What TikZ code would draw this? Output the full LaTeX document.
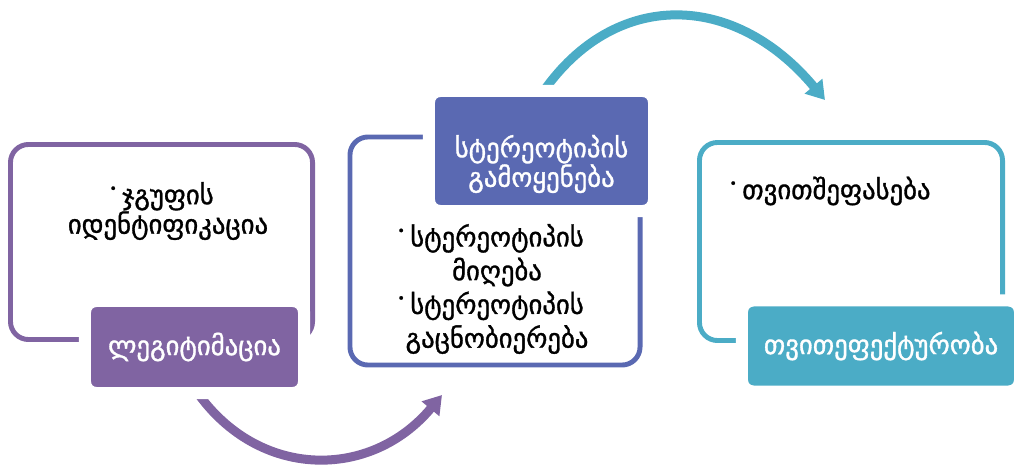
\documentclass[tikz,border=0pt]{standalone}
\usepackage{fontspec}
\setmainfont{DejaVu Sans}[FakeBold=1.2]
\usetikzlibrary{arrows.meta}
\definecolor{purp}{HTML}{8064A2}
\definecolor{blu}{HTML}{5A69B2}
\definecolor{cyn}{HTML}{4BACC6}
% hanging bullet, kept out of the centring
\newcommand{\bul}{\llap{\raisebox{.42em}{\fontsize{9}{9}\selectfont •}\hspace{.2em}}}

\begin{document}
\begin{tikzpicture}[x=0.025cm,y=-0.025cm,
 every node/.style={font=\fontsize{19}{22}\selectfont,inner sep=0pt},
 outl/.style={draw=#1,line width=3.5pt,rounded corners=0.45cm},
 tab/.style={fill=#1,draw=white,line width=0.3cm,rounded corners=0.28cm,text=white,align=center},
 flow/.style={line width=0.225cm,-{Triangle[width=0.55cm,length=0.45cm]}}]
\useasboundingbox (0,0) rectangle (1015,466);
% curved arrows between the stages
\coordinate (p1) at (197,392);
\coordinate (p2) at (442,395);
\draw[flow,purp] (p1) .. controls (259,480) and (371,480) .. (p2);
\coordinate (c1) at (543,92);
\coordinate (c2) at (825,100);
\draw[flow,cyn] (c1) .. controls (614,-10) and (733,-10) .. (c2);
% outlined frames
\node[outl=purp,minimum width=7.55cm,minimum height=4.875cm] (o1) at (161.5,242) {};
\node[outl=blu,minimum width=7.25cm,minimum height=5.7cm] (o2) at (495,251) {};
\node[outl=cyn,minimum width=7.575cm,minimum height=4.95cm] (o3) at (851,241.5) {};
% filled title tabs
\node[tab=purp,minimum width=5.475cm,minimum height=2.3cm] (t1) at (194.5,347) {ლეგიტიმაცია};
\node[tab=blu,minimum width=5.625cm,minimum height=3cm] (t2) at (541.5,151) {};
\node[text=white,align=center,font=\fontsize{19}{21}\selectfont] (t2txt) at (541.5,164) {სტერეოტიპის\\გამოყენება};
\node[tab=cyn,minimum width=6.95cm,minimum height=2.275cm] (t3) at (881,346) {თვითეფექტურობა};
% bullet texts
\node[align=center,font=\fontsize{19}{21}\selectfont] (b1) at (168,211) {\bul ჯგუფის\\იდენტიფიკაცია};
\node[align=center,font=\fontsize{19}{24}\selectfont] (b2) at (497,289) {\bul სტერეოტიპის\\მიღება\\\bul სტერეოტიპის\\გაცნობიერება};
\node[anchor=west] (b3) at (742,191) {\bul თვითშეფასება};
\end{tikzpicture}
\end{document}
